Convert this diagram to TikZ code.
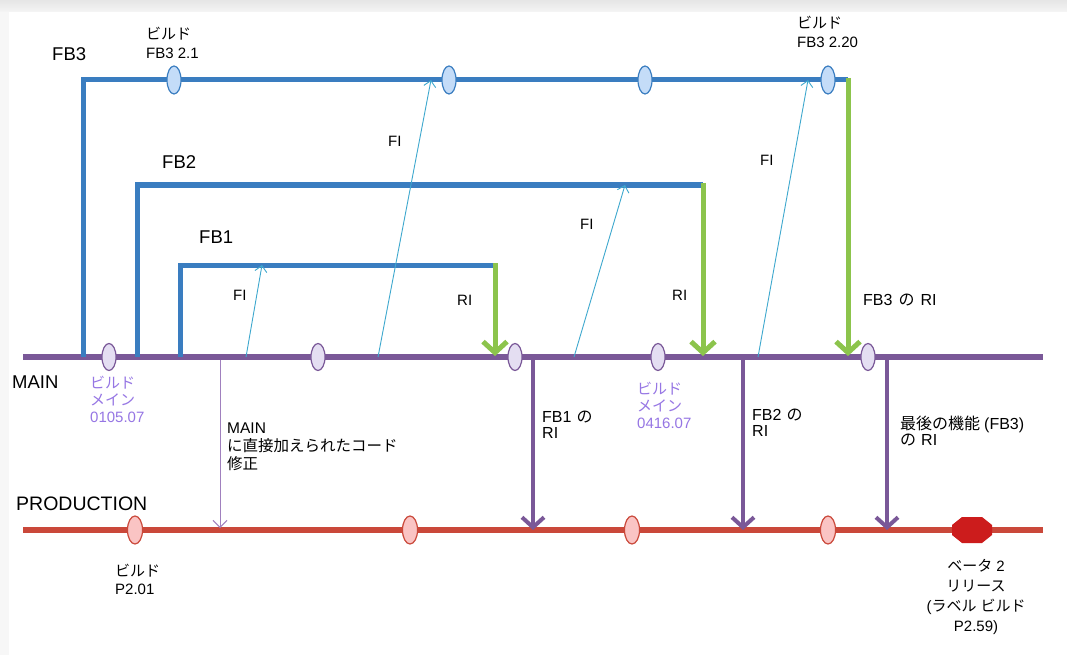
\documentclass[tikz,border=0pt]{standalone}
\usepackage{fontspec}
\setmainfont{Liberation Sans}
\newfontfamily\jp{Noto Sans CJK JP}
\newcommand\jpt[1]{{\jp #1}}
\usetikzlibrary{arrows.meta,shapes.geometric}
\definecolor{fbblue}{RGB}{58,125,192}
\definecolor{rigreen}{RGB}{140,196,76}
\definecolor{mainpurple}{RGB}{122,88,152}
\definecolor{prodred}{RGB}{202,72,58}
\definecolor{ficyan}{RGB}{62,168,206}
\definecolor{lblpurple}{RGB}{150,118,228}
\definecolor{blueell}{RGB}{196,220,248}
\definecolor{purpell}{RGB}{228,222,242}
\definecolor{redell}{RGB}{250,196,196}
\definecolor{betared}{RGB}{204,28,28}
\definecolor{fixpurple}{RGB}{160,128,190}
\begin{document}
\begin{tikzpicture}[x=1pt,y=-1pt,
  branch/.style={draw=fbblue,line width=5pt,line join=miter},
  trunk/.style={draw=mainpurple,line width=6pt},
  prodline/.style={draw=prodred,line width=6pt},
  riarrow/.style={draw=rigreen,line width=5pt,-{Straight Barb[length=11pt,width=24pt]}},
  merge/.style={draw=mainpurple,line width=4pt,-{Straight Barb[length=10pt,width=22pt]}},
  fiarrow/.style={draw=ficyan,line width=0.9pt,-{Straight Barb[length=6pt,width=12pt]}},
  fixarrow/.style={draw=fixpurple,line width=1pt,-{Straight Barb[length=7pt,width=14pt]}},
  bell/.style={shape=ellipse,draw=fbblue,fill=blueell,line width=1.2pt,minimum width=14pt,minimum height=28pt,inner sep=0pt},
  pell/.style={shape=ellipse,draw=mainpurple,fill=purpell,line width=1.2pt,minimum width=14pt,minimum height=27pt,inner sep=0pt},
  rell/.style={shape=ellipse,draw=prodred,fill=redell,line width=1.2pt,minimum width=15pt,minimum height=28pt,inner sep=0pt},
  big/.style={inner sep=0pt,anchor=base west,font=\fontsize{18.5}{22}\selectfont},
  lab/.style={inner sep=0pt,anchor=base west,font=\fontsize{15}{18}\selectfont},
  mlab/.style={inner sep=0pt,anchor=north west,align=left},
]
\fill[white] (0,0) rectangle (1067,655);
\useasboundingbox (0,0) rectangle (1067,655);
\shade[top color=black!10,bottom color=black!4] (0,0) rectangle (1067,12);
\fill[black!3] (0,12) rectangle (9,655);

% trunk lines
\coordinate (m0) at (23,357);
\coordinate (m1) at (1043,357);
\coordinate (p0) at (23,530);
\coordinate (p1) at (1043,530);
\draw[trunk] (m0) -- (m1);
\draw[prodline] (p0) -- (p1);

% feature branches
\coordinate (b3s) at (83,357);
\coordinate (b3e) at (848,80);
\coordinate (b2s) at (137,357);
\coordinate (b2e) at (703,185);
\coordinate (b1s) at (180,357);
\coordinate (b1e) at (495,265);
\draw[branch] (b3s) |- (b3e);
\draw[branch] (b2s) |- (b2e);
\draw[branch] (b1s) |- (b1e);

% reverse integrations (green)
\coordinate (g3) at (848,356);
\coordinate (g2) at (703,356);
\coordinate (g1) at (495,356);
\coordinate (g3t) at (848,78);
\coordinate (g2t) at (703,183);
\coordinate (g1t) at (495,263);
\draw[riarrow] (g3t) -- (g3);
\draw[riarrow] (g2t) -- (g2);
\draw[riarrow] (g1t) -- (g1);

% forward integrations (cyan)
\coordinate (fa0) at (246,357);
\coordinate (fa1) at (262,265);
\coordinate (fb0) at (378,357);
\coordinate (fb1) at (431,80);
\coordinate (fc0) at (574,357);
\coordinate (fc1) at (625,185);
\coordinate (fd0) at (758,357);
\coordinate (fd1) at (808,80);
\draw[fiarrow] (fa0) -- (fa1);
\draw[fiarrow] (fb0) -- (fb1);
\draw[fiarrow] (fc0) -- (fc1);
\draw[fiarrow] (fd0) -- (fd1);

% merges MAIN -> PRODUCTION
\coordinate (ma0) at (533,359);
\coordinate (ma1) at (533,530);
\coordinate (mb0) at (743,359);
\coordinate (mb1) at (743,530);
\coordinate (mc0) at (887,359);
\coordinate (mc1) at (887,530);
\draw[merge] (ma0) -- (ma1);
\draw[merge] (mb0) -- (mb1);
\draw[merge] (mc0) -- (mc1);
\coordinate (fx0) at (220,360);
\coordinate (fx1) at (220,528);
\draw[fixarrow] (fx0) -- (fx1);

% build markers
\node[bell] (e31) at (174,80) {};
\node[bell] (e32) at (449,80) {};
\node[bell] (e33) at (645,80) {};
\node[bell] (e34) at (828,80) {};
\node[pell] (em1) at (109,357) {};
\node[pell] (em2) at (318,357) {};
\node[pell] (em3) at (515,357) {};
\node[pell] (em4) at (658,357) {};
\node[pell] (em5) at (868,357) {};
\node[rell] (ep1) at (135,530) {};
\node[rell] (ep2) at (410,530) {};
\node[rell] (ep3) at (632,530) {};
\node[rell] (ep4) at (828,530) {};
\coordinate (beta) at (972,530);
\fill[betared] ([shift={(-10,-13)}]beta) -- ([shift={(10,-13)}]beta) -- ([shift={(20,-5)}]beta) -- ([shift={(20,5)}]beta)
  -- ([shift={(10,13)}]beta) -- ([shift={(-10,13)}]beta) -- ([shift={(-20,5)}]beta) -- ([shift={(-20,-5)}]beta) -- cycle;

% branch names
\node[big] (tfb3) at (52,61) {FB3};
\node[big] (tfb2) at (162,168) {FB2};
\node[big] (tfb1) at (199,243) {FB1};
\node[big] (tmain) at (12,388) {MAIN};
\node[big,font=\fontsize{19.5}{22}\selectfont] (tprod) at (16,510) {PRODUCTION};

% FI / RI labels
\node[lab] (fi1) at (233,300) {FI};
\node[lab] (fi2) at (388,147) {FI};
\node[lab] (fi3) at (580,229) {FI};
\node[lab] (fi4) at (760,165) {FI};
\node[lab] (ri1) at (457,305) {RI};
\node[lab] (ri2) at (672,300) {RI};
\node[lab,font=\fontsize{16}{18}\selectfont] (ri3) at (863,305) {FB3\hspace{6pt}\jpt{の}\hspace{6pt}RI};

% build labels
\node[mlab,font=\fontsize{15}{19}\selectfont] (lb31) at (146,27) {\jpt{ビルド}\\FB3 2.1};
\node[mlab,font=\fontsize{15}{19}\selectfont] (lb34) at (797,16) {\jpt{ビルド}\\FB3 2.20};
\node[mlab,text=lblpurple,font=\fontsize{15}{17}\selectfont] (lbm1) at (90,376) {\jpt{ビルド}\\\jpt{メイン}\\0105.07};
\node[mlab,text=lblpurple,font=\fontsize{15}{17}\selectfont] (lbm4) at (637,382) {\jpt{ビルド}\\\jpt{メイン}\\0416.07};
\node[mlab,font=\fontsize{15}{18}\selectfont] (lbp1) at (115,564) {\jpt{ビルド}\\P2.01};

% merge labels
\node[mlab,font=\fontsize{16}{16}\selectfont] (lma) at (542,411) {FB1\hspace{5pt}\jpt{の}\\RI};
\node[mlab,font=\fontsize{16}{16}\selectfont] (lmb) at (752,409) {FB2\hspace{5pt}\jpt{の}\\RI};
\node[mlab,font=\fontsize{16}{16}\selectfont] (lmc) at (900,416) {\jpt{最後の機能}\hspace{4pt}(FB3)\\\jpt{の}\hspace{5pt}RI};
\node[mlab,font=\fontsize{15.5}{18}\selectfont] (lfx) at (227,423) {MAIN\\\jpt{に直接加えられたコード}\\\jpt{修正}};
\node[inner sep=0pt,anchor=north,align=center,font=\fontsize{15}{20}\selectfont] (lbeta) at (976,559)
  {\jpt{ベータ}\hspace{4pt}2\\\jpt{リリース}\\(\jpt{ラベル}\hspace{4pt}\jpt{ビルド}\\P2.59)};
\end{tikzpicture}
\end{document}
